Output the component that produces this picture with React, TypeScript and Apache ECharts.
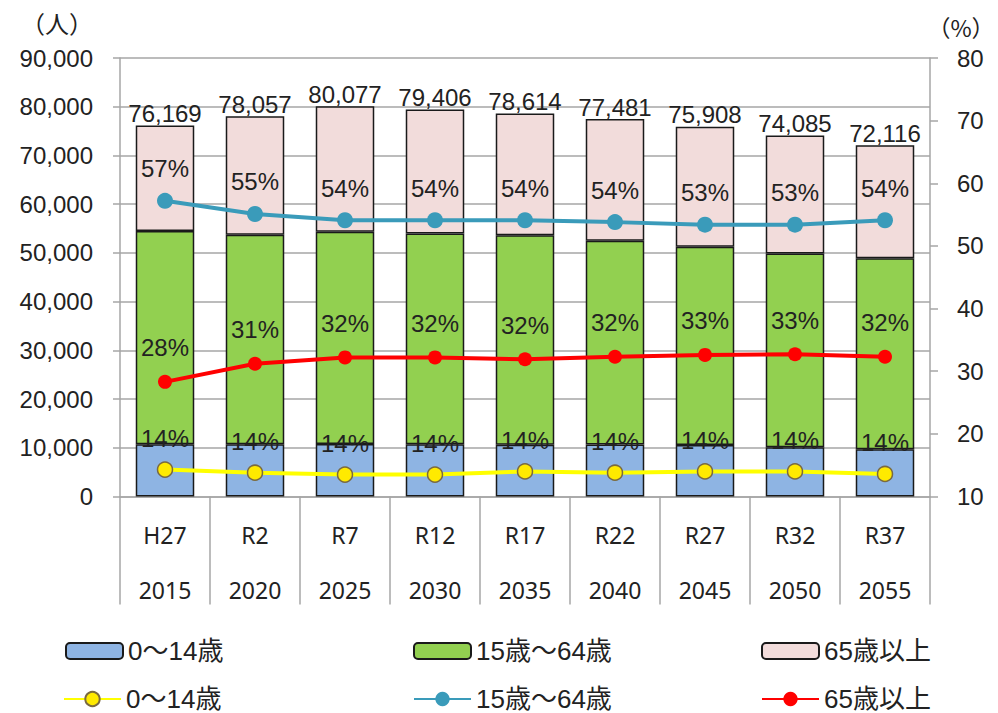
import React, { useEffect, useRef } from "react";
import * as echarts from "echarts";

const eraLabels = ["H27", "R2", "R7", "R12", "R17", "R22", "R27", "R32", "R37"];
const yearLabels = ["2015", "2020", "2025", "2030", "2035", "2040", "2045", "2050", "2055"];

const youngPop = [10700, 10700, 10800, 10700, 10600, 10650, 10550, 10100, 9700];
const workingPop = [43800, 43000, 43550, 43300, 43000, 41850, 40700, 39800, 39200];
const elderlyPop = [21669, 24357, 25727, 25406, 25014, 24981, 24658, 24185, 23216];
const totalPop = [76169, 78057, 80077, 79406, 78614, 77481, 75908, 74085, 72116];

const youngPct = [14.3, 13.8, 13.5, 13.5, 14.0, 13.8, 14.0, 14.0, 13.6];
const workingPct = [57.2, 55.1, 54.1, 54.1, 54.1, 53.8, 53.4, 53.4, 54.1];
const elderlyPct = [28.3, 31.2, 32.2, 32.2, 31.9, 32.3, 32.6, 32.7, 32.3];

const leftTicks = { min: 0, max: 90000, interval: 10000 };
const rightTicks = { min: 10, max: 80, interval: 10 };

const FONT = "'Liberation Sans', Arial, 'Noto Sans CJK JP', sans-serif";
const CJK = "'Noto Sans CJK JP', sans-serif";
const GRID_GRAY = "#A6A6A6";
const TEXT = "#222222";

export default function App() {
  const ref = useRef<HTMLDivElement>(null);

  useEffect(() => {
    document.body.style.margin = "0";
    if (!ref.current) return;
    const chart = echarts.init(ref.current, undefined, { renderer: "svg" });

    const pctLabel = (distance: number) => ({
      show: true,
      position: "top",
      distance,
      fontSize: 24,
      fontFamily: FONT,
      color: TEXT,
      formatter: (p: any) => Math.round(p.value) + "%",
    });

    const barStyle = (color: string) => ({
      color,
      borderColor: "#1a1a1a",
      borderWidth: 1.5,
    });

    const legendBase = {
      orient: "horizontal",
      padding: 0,
      itemGap: 0,
      selectedMode: false,
      itemWidth: 57,
      textStyle: { fontSize: 26, fontFamily: FONT, color: TEXT },
      formatter: (name: string) => name.trim(),
    };

    const option: any = {
      animation: false,
      grid: { left: 120, right: 68, top: 58, bottom: 216.5 },
      graphic: [
        {
          type: "text",
          x: 57,
          y: 22,
          style: {
            text: "（人）",
            fontSize: 24,
            fontFamily: CJK,
            fill: TEXT,
            align: "center",
            verticalAlign: "middle",
          },
        },
        {
          type: "text",
          x: 961,
          y: 27,
          style: {
            text: "（%）",
            fontSize: 23,
            fontFamily: CJK,
            fill: TEXT,
            align: "center",
            verticalAlign: "middle",
          },
        },
      ],
      legend: [
        { ...legendBase, left: 65, top: 638, itemHeight: 16, data: ["0～14歳"] },
        { ...legendBase, left: 413, top: 638, itemHeight: 16, data: ["15歳～64歳"] },
        { ...legendBase, left: 761, top: 638, itemHeight: 16, data: ["65歳以上"] },
        { ...legendBase, left: 63, top: 686, itemHeight: 18, data: ["0～14歳 "] },
        { ...legendBase, left: 413, top: 686, itemHeight: 18, data: ["15歳～64歳 "] },
        { ...legendBase, left: 761, top: 686, itemHeight: 18, data: ["65歳以上 "] },
      ],
      xAxis: {
        type: "category",
        data: eraLabels,
        boundaryGap: true,
        axisLine: { show: true, lineStyle: { color: GRID_GRAY, width: 1.5 } },
        axisTick: {
          show: true,
          interval: 0,
          length: 108,
          alignWithLabel: false,
          lineStyle: { color: GRID_GRAY, width: 1.5 },
        },
        axisLabel: {
          interval: 0,
          margin: 11,
          formatter: (v: string, i: number) => `{a|${v}}\n{b|${yearLabels[i]}}`,
          rich: {
            a: { fontSize: 23, lineHeight: 55, fontFamily: "'Noto Sans', sans-serif", color: TEXT },
            b: { fontSize: 23, lineHeight: 55, fontFamily: "'Noto Sans', sans-serif", color: TEXT },
          },
        },
      },
      yAxis: [
        {
          type: "value",
          ...leftTicks,
          axisLine: { show: true, lineStyle: { color: GRID_GRAY, width: 1.5 } },
          axisTick: { show: true, length: 7, lineStyle: { color: GRID_GRAY, width: 1.5 } },
          splitLine: { show: true, lineStyle: { color: GRID_GRAY, width: 1.5 } },
          axisLabel: {
            margin: 27,
            fontSize: 24,
            fontFamily: FONT,
            color: TEXT,
            formatter: (v: number) => v.toLocaleString("en-US"),
          },
        },
        {
          type: "value",
          ...rightTicks,
          position: "right",
          axisLine: { show: true, lineStyle: { color: GRID_GRAY, width: 1.5 } },
          axisTick: { show: true, length: 8, lineStyle: { color: GRID_GRAY, width: 1.5 } },
          splitLine: { show: false },
          axisLabel: {
            margin: 27,
            fontSize: 24,
            fontFamily: FONT,
            color: TEXT,
          },
        },
      ],
      series: [
        {
          name: "0～14歳",
          type: "bar",
          stack: "pop",
          barWidth: "65%",
          data: youngPop,
          itemStyle: barStyle("#8EB4E3"),
          z: 2,
        },
        {
          name: "15歳～64歳",
          type: "bar",
          stack: "pop",
          barWidth: "65%",
          data: workingPop,
          itemStyle: barStyle("#92D050"),
          z: 2,
        },
        {
          name: "65歳以上",
          type: "bar",
          stack: "pop",
          barWidth: "65%",
          data: elderlyPop,
          itemStyle: barStyle("#F2DCDB"),
          z: 2,
          label: {
            show: true,
            position: "top",
            distance: 0,
            fontSize: 24,
            fontFamily: FONT,
            color: TEXT,
            formatter: (p: any) => totalPop[p.dataIndex].toLocaleString("en-US"),
          },
        },
        {
          name: "0～14歳 ",
          type: "line",
          yAxisIndex: 1,
          data: youngPct,
          symbol: "circle",
          symbolSize: 15,
          lineStyle: { color: "#FFFF00", width: 4 },
          itemStyle: { color: "#FFEA00", borderColor: "#7A6A40", borderWidth: 1.5 },
          label: pctLabel(11),
          z: 5,
        },
        {
          name: "15歳～64歳 ",
          type: "line",
          yAxisIndex: 1,
          data: workingPct,
          symbol: "circle",
          symbolSize: 16,
          lineStyle: { color: "#3A9BBA", width: 4 },
          itemStyle: { color: "#3A9BBA" },
          label: pctLabel(12),
          z: 5,
        },
        {
          name: "65歳以上 ",
          type: "line",
          yAxisIndex: 1,
          data: elderlyPct,
          symbol: "circle",
          symbolSize: 14,
          lineStyle: { color: "#FF0000", width: 4 },
          itemStyle: { color: "#FF0000" },
          label: pctLabel(15),
          z: 5,
        },
      ],
    };

    chart.setOption(option);
    return () => chart.dispose();
  }, []);

  return <div ref={ref} style={{ width: 998, height: 713 }} />;
}
